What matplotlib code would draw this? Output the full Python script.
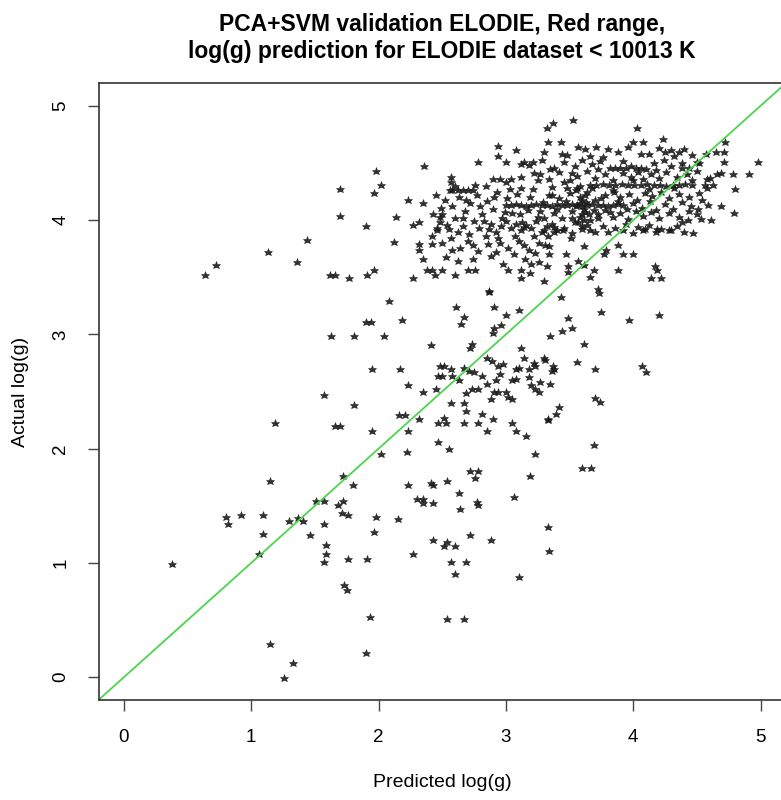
import matplotlib
matplotlib.use("Agg")
import matplotlib.pyplot as plt

# scattered points (predicted, actual)
pred_sparse = [
    0.64, 0.72, 1.13, 1.36, 1.44, 1.57, 1.19, 1.15,
    0.38, 0.80, 0.82, 0.92, 1.09, 1.09, 1.06, 1.30, 1.37, 1.41, 1.46, 1.51, 1.57, 1.57, 1.59, 1.59, 1.57,
    1.15, 1.33, 1.26,
    1.68, 1.72, 1.71, 1.76, 1.98, 1.96, 2.15, 1.76, 1.91, 1.73, 1.75, 1.93, 1.90,
    2.30, 2.35, 2.35, 2.43, 2.63, 2.64, 2.77, 2.78, 3.06, 2.27, 2.43, 2.54, 2.51, 2.60, 2.72, 2.88,
    2.57, 2.69, 2.60, 3.10, 2.54, 2.67, 3.33, 3.34,
    3.43, 3.72, 3.73, 3.75, 3.97, 4.20, 3.49, 3.35, 3.44, 3.52, 3.61, 3.31, 3.37, 3.36, 3.38, 3.56,
    3.70, 4.07, 4.10, 3.35, 3.70, 3.74, 3.42, 3.39, 3.33, 3.69, 3.60, 3.67,
    2.87, 2.08, 2.61, 2.91, 3.10, 2.67, 2.65, 3.00, 2.96, 2.91, 2.90, 1.90, 1.94, 2.18, 1.63, 1.81,
    2.04, 2.41, 2.73, 2.72, 3.12, 3.14, 3.30, 1.95, 2.17, 2.48, 2.51, 2.57, 2.47, 2.50, 2.58, 2.63,
    2.67, 2.71, 2.75, 2.81, 2.85, 2.89, 2.94, 2.98, 2.95, 2.85, 2.92, 3.08, 3.10, 3.18, 3.22, 3.23,
    3.05, 3.08, 3.18, 3.27, 3.20, 3.23, 3.26, 2.23, 2.35, 2.45, 2.69, 2.73, 2.78, 2.91, 2.94, 2.88,
    3.00, 3.02, 3.05, 1.81, 2.57, 2.67, 2.69, 2.81, 2.16, 2.21, 2.32, 2.51, 2.53, 2.47, 2.67, 2.78,
    2.90, 3.05, 3.33, 1.66, 1.70, 1.95, 2.23, 2.85, 3.08, 3.16, 2.47, 2.55, 2.02, 2.22, 3.23, 1.72,
    1.80, 2.23, 2.41, 2.43, 2.54, 2.72, 2.78, 2.76, 3.19,
    1.98, 2.02, 1.96, 1.70, 1.70, 1.90, 2.36, 2.23, 2.35, 2.14, 2.27, 2.32, 2.12, 2.32, 2.42, 2.32,
    2.35, 2.38, 2.42, 2.44, 2.50, 2.27, 2.60, 2.70, 2.76, 1.62, 1.66, 1.77, 1.91, 1.96, 2.87, 3.02,
    3.12, 3.19, 3.12, 3.26, 3.30, 3.32, 2.49, 2.43, 2.48, 2.46, 2.54, 2.57, 2.57, 2.58, 2.62, 2.66,
    2.70, 2.74, 2.76, 2.78, 2.94, 2.94, 3.08, 3.00, 3.12, 3.14, 3.21, 3.32, 3.33, 3.27, 2.90, 2.95,
    3.04,
    4.98, 4.91, 4.80, 4.79, 4.78, 4.72, 4.71, 4.65, 4.71, 4.69, 4.66, 4.63, 4.69, 4.59, 4.61, 4.53,
    4.51, 4.54, 4.56, 4.58, 4.57, 4.47, 4.30, 4.38, 4.43, 4.23, 4.03, 3.53, 3.37, 3.43, 3.57, 3.71,
    4.00, 4.08, 4.30, 4.36, 4.46, 4.50,
    3.51, 3.61, 3.34, 3.34, 3.47, 3.57, 3.61, 3.49, 3.49, 3.69, 3.66, 3.77, 3.79, 3.88, 3.88, 3.92,
    4.00, 4.17, 4.19, 4.14, 4.22, 3.38, 3.40, 4.09, 4.19,
]
actual_sparse = [
    3.52, 3.61, 3.72, 3.63, 3.83, 2.47, 2.22, 1.72,
    0.99, 1.40, 1.34, 1.42, 1.42, 1.25, 1.08, 1.37, 1.39, 1.37, 1.24, 1.54, 1.54, 1.34, 1.16, 1.08, 1.01,
    0.29, 0.12, -0.01,
    1.51, 1.54, 1.44, 1.42, 1.40, 1.27, 1.38, 1.03, 1.03, 0.81, 0.76, 0.53, 0.21,
    1.56, 1.56, 1.52, 1.52, 1.61, 1.47, 1.53, 1.51, 1.58, 1.08, 1.20, 1.18, 1.15, 1.15, 1.24, 1.20,
    1.01, 1.01, 0.90, 0.88, 0.51, 0.51, 1.31, 1.10,
    3.33, 3.40, 3.36, 3.20, 3.13, 3.17, 3.14, 2.99, 3.03, 3.06, 2.92, 2.78, 2.72, 2.68, 2.70, 2.76,
    2.70, 2.72, 2.67, 2.57, 2.44, 2.41, 2.36, 2.30, 2.25, 2.03, 1.83, 1.83,
    3.37, 3.29, 3.24, 3.24, 3.21, 3.15, 3.09, 3.17, 3.08, 3.06, 3.01, 3.11, 3.11, 3.13, 2.99, 2.99,
    2.99, 2.91, 2.92, 2.88, 2.88, 2.79, 2.79, 2.70, 2.70, 2.72, 2.72, 2.70, 2.64, 2.64, 2.64, 2.60,
    2.71, 2.68, 2.67, 2.64, 2.79, 2.77, 2.72, 2.74, 2.65, 2.57, 2.60, 2.70, 2.71, 2.70, 2.75, 2.72,
    2.60, 2.61, 2.63, 2.58, 2.56, 2.52, 2.50, 2.56, 2.50, 2.52, 2.49, 2.52, 2.52, 2.50, 2.50, 2.43,
    2.50, 2.45, 2.43, 2.38, 2.40, 2.40, 2.33, 2.30, 2.29, 2.29, 2.26, 2.27, 2.22, 2.22, 2.22, 2.22,
    2.26, 2.22, 2.26, 2.20, 2.20, 2.15, 2.15, 2.15, 2.15, 2.11, 2.06, 2.00, 1.95, 1.97, 1.95, 1.76,
    1.68, 1.68, 1.70, 1.68, 1.72, 1.80, 1.80, 1.74, 1.76,
    4.43, 4.31, 4.24, 4.27, 4.04, 3.95, 4.47, 4.18, 4.15, 4.03, 3.96, 3.98, 3.81, 3.79, 3.79, 3.74,
    3.66, 3.56, 3.56, 3.52, 3.56, 3.49, 3.52, 3.56, 3.56, 3.52, 3.52, 3.49, 3.52, 3.56, 3.38, 3.56,
    3.49, 3.54, 3.56, 3.63, 3.47, 3.60, 4.11, 4.05, 4.03, 3.91, 3.96, 4.38, 4.33, 4.26, 4.26, 4.26,
    4.26, 4.26, 4.31, 4.51, 4.65, 4.56, 4.61, 4.51, 4.49, 4.51, 4.51, 4.81, 4.68, 4.40, 4.36, 4.36,
    4.36,
    4.51, 4.40, 4.27, 4.06, 4.40, 4.68, 4.60, 4.60, 4.51, 4.41, 4.40, 4.31, 4.12, 4.13, 4.00, 4.01,
    4.10, 4.18, 4.31, 4.36, 4.58, 3.89, 3.91, 3.98, 4.00, 4.71, 4.81, 4.88, 4.85, 4.68, 4.64, 4.64,
    4.68, 4.68, 4.61, 4.60, 4.57, 4.51,
    3.84, 3.77, 3.77, 3.70, 3.70, 3.64, 3.61, 3.60, 3.55, 3.56, 3.50, 3.70, 3.74, 3.78, 3.56, 3.70,
    3.70, 3.60, 3.56, 3.49, 3.49, 3.94, 3.91, 3.92, 3.92,
]

# dense cluster around predicted 2.4-3.35 / actual 3.6-4.35
pred_giants = [
    2.45, 2.52, 2.58, 2.63, 2.68, 2.72, 2.77, 2.81, 2.85, 2.90, 2.93, 2.97, 3.01, 3.05, 3.09, 3.13,
    3.17, 3.21, 3.25, 3.29, 2.48, 2.55, 2.60, 2.66, 2.71, 2.75, 2.79, 2.84, 2.88, 2.92, 2.96, 3.00,
    3.04, 3.08, 3.12, 3.16, 3.20, 3.24, 3.28, 3.32, 2.42, 2.50, 2.57, 2.64, 2.70, 2.78, 2.86, 2.94,
    3.02, 3.10, 3.18, 3.26, 3.33, 2.53, 2.62, 2.74, 2.88, 2.98, 3.06, 3.15, 3.23, 2.60, 2.84, 3.00,
    3.12, 3.25,
    2.50, 2.56, 2.62, 2.69, 2.74, 2.80, 2.87, 2.91, 2.95, 3.03, 3.07, 3.11, 3.14, 3.19, 3.22, 3.27,
    3.31, 3.34, 2.46, 2.66, 2.83, 2.99, 3.14, 3.30, 2.58, 2.92, 3.20,
]
actual_giants = [
    4.22, 4.18, 4.12, 4.20, 4.08, 4.15, 4.22, 4.05, 4.17, 4.10, 4.25, 4.02, 4.19, 4.06, 4.23, 3.98,
    4.09, 4.27, 4.03, 4.16, 3.98, 3.92, 4.02, 3.95, 3.88, 3.99, 3.93, 3.86, 3.97, 3.90, 3.95, 3.99,
    3.93, 3.97, 3.91, 3.96, 3.93, 3.99, 3.90, 3.95, 3.86, 3.80, 3.84, 3.76, 3.82, 3.73, 3.79, 3.84,
    3.76, 3.82, 3.74, 3.80, 3.86, 3.68, 3.64, 3.66, 3.69, 3.62, 3.70, 3.66, 3.71, 4.30, 4.30, 4.33,
    4.28, 4.35,
    4.05, 4.26, 3.90, 4.18, 3.78, 4.12, 3.92, 4.20, 3.80, 4.27, 3.86, 4.05, 3.78, 4.20, 3.86, 4.08,
    3.78, 4.22, 3.93, 4.02, 3.99, 4.07, 3.94, 4.02, 3.74, 3.72, 3.62,
]

# the row of stars at actual log(g) ~ 4.13
pred_band = [
    3.00, 3.04, 3.08, 3.12, 3.16, 3.20, 3.24, 3.28, 3.32, 3.36, 3.40, 3.44, 3.48, 3.52, 3.56, 3.60,
    3.64, 3.68, 3.72, 3.76, 3.80, 3.84, 3.88, 3.92,
]
actual_band = [
    4.13, 4.13, 4.14, 4.13, 4.12, 4.13, 4.14, 4.13, 4.13, 4.12, 4.14, 4.13, 4.13, 4.14, 4.13, 4.12,
    4.13, 4.14, 4.13, 4.13, 4.12, 4.13, 4.14, 4.13,
]

# dense cluster around predicted 3.3-4.6 / actual 3.9-4.65
pred_dwarfs = [
    3.30, 3.48, 3.62, 3.76, 3.88, 3.96, 4.12, 4.20, 4.32, 4.40,
    3.18, 3.28, 3.38, 3.46, 3.54, 3.60, 3.68, 3.74, 3.82, 3.86, 3.90, 3.94, 3.98, 4.02, 4.06, 4.10,
    4.16, 4.24, 4.30, 4.38, 4.44,
    3.12, 3.22, 3.34, 3.42, 3.50, 3.56, 3.64, 3.70, 3.78, 3.84, 3.92, 3.98, 4.04, 4.08, 4.14, 4.20,
    4.26, 4.34, 4.42, 4.50, 4.60,
    3.66, 3.71, 3.76, 3.81, 3.86, 3.91, 3.96, 4.01, 4.06, 4.11, 4.16, 4.21, 4.26, 4.31, 4.36, 4.41,
    4.46, 3.36, 3.46, 3.56,
    3.36, 3.42, 3.50, 3.58, 3.64, 3.70, 3.78, 3.84, 3.90, 3.97, 4.03, 4.09, 4.15, 4.22, 4.28, 4.36,
    4.44, 4.52,
    3.38, 3.44, 3.52, 3.58, 3.62, 3.66, 3.72, 3.78, 3.84, 3.90, 3.96, 4.02, 4.08, 4.14, 4.20, 4.28,
    4.36, 4.44,
    3.36, 3.46, 3.54, 3.60, 3.64, 3.70, 3.76, 3.86, 3.94, 4.04, 4.12, 4.22, 4.34,
    3.60, 3.61, 3.60, 3.61, 3.60,
    3.35, 3.44, 3.52, 3.58, 3.66, 3.72, 3.80, 3.85, 3.92, 4.00, 4.06, 4.12, 4.18, 4.25, 4.32, 4.38,
    4.46, 4.52, 4.58,
    3.40, 3.47, 3.55, 3.63, 3.69, 3.75, 3.82, 3.88, 3.95, 4.00, 4.07, 4.13, 4.18, 4.25, 4.31, 4.38,
    4.45, 4.50,
    3.30, 3.38, 3.45, 3.52, 3.66, 3.80, 3.92, 4.00, 4.08, 4.18, 4.28, 4.40,
    3.55, 3.58, 3.62, 3.65, 3.68, 3.52, 3.48, 3.72, 3.57,
]
actual_dwarfs = [
    4.60, 4.57, 4.62, 4.55, 4.60, 4.64, 4.58, 4.63, 4.56, 4.62,
    4.48, 4.53, 4.46, 4.51, 4.47, 4.53, 4.49, 4.52, 4.46, 4.46, 4.46, 4.46, 4.47, 4.46, 4.46, 4.45,
    4.50, 4.53, 4.47, 4.50, 4.46,
    4.38, 4.41, 4.36, 4.42, 4.35, 4.39, 4.43, 4.37, 4.40, 4.35, 4.41, 4.38, 4.42, 4.36, 4.40, 4.37,
    4.42, 4.38, 4.40, 4.43, 4.37,
    4.31, 4.31, 4.32, 4.31, 4.31, 4.32, 4.31, 4.31, 4.31, 4.32, 4.31, 4.31, 4.30, 4.31, 4.31, 4.32,
    4.31, 4.29, 4.33, 4.28,
    4.22, 4.19, 4.24, 4.20, 4.25, 4.18, 4.22, 4.26, 4.20, 4.23, 4.18, 4.24, 4.21, 4.25, 4.19, 4.23,
    4.20, 4.24,
    4.06, 4.02, 4.08, 4.03, 4.07, 4.00, 4.05, 4.09, 4.03, 4.06, 4.01, 4.08, 4.04, 4.07, 4.02, 4.06,
    4.03, 4.08,
    3.97, 3.93, 3.98, 3.92, 3.96, 3.90, 3.95, 3.93, 3.97, 3.94, 3.96, 3.92, 3.95,
    3.95, 4.00, 4.05, 4.10, 4.18,
    4.45, 4.58, 4.41, 4.30, 4.56, 4.45, 4.62, 4.25, 4.52, 4.35, 4.58, 4.27, 4.44, 4.60, 4.28, 4.46,
    4.35, 4.50, 4.28,
    4.10, 4.17, 4.12, 4.16, 4.09, 4.19, 4.07, 4.17, 4.10, 4.15, 4.11, 4.17, 4.09, 4.14, 4.10, 4.16,
    4.12, 4.05,
    3.91, 3.90, 3.91, 3.89, 3.91, 3.90, 3.91, 3.89, 3.91, 3.90, 3.91, 3.90,
    4.26, 4.15, 4.22, 4.05, 4.28, 4.02, 4.28, 4.02, 3.98,
]

pred = pred_sparse + pred_giants + pred_band + pred_dwarfs
actual = actual_sparse + actual_giants + actual_band + actual_dwarfs

plt.rcParams['font.family'] = ['Liberation Sans', 'DejaVu Sans']

fig = plt.figure(figsize=(7.81, 8.0), dpi=100)
ax = fig.add_axes([98.5 / 781, 100 / 800, 687.5 / 781, 617 / 800])

ax.plot(pred, actual, linestyle='none', marker='*', markersize=6.2,
        color='#1a1a1a', markeredgewidth=0.4, alpha=0.9)
ax.axline((0, 0), slope=1, color='#4cd44c', linewidth=1.3)

ax.set_xlim(-0.2, 5.2)
ax.set_ylim(-0.2, 5.2)
ax.set_xticks([0, 1, 2, 3, 4, 5])
ax.set_yticks([0, 1, 2, 3, 4, 5])
ax.tick_params(direction='out', length=8, width=1, labelsize=13.5, pad=13,
               color='#444444')
for lbl in ax.get_yticklabels():
    lbl.set_rotation(90)
    lbl.set_va('center')
for s in ax.spines.values():
    s.set_color('#333333')
    s.set_linewidth(1.2)

ax.set_xlabel('Predicted log(g)', fontsize=14, labelpad=20)
ax.set_ylabel('Actual log(g)', fontsize=14, labelpad=17)
ax.set_title('PCA+SVM validation ELODIE, Red range,\n'
             'log(g) prediction for ELODIE dataset < 10013 K',
             fontsize=16.5, fontweight='bold', pad=18, linespacing=1.2)

fig.savefig('out.png', dpi=100)
